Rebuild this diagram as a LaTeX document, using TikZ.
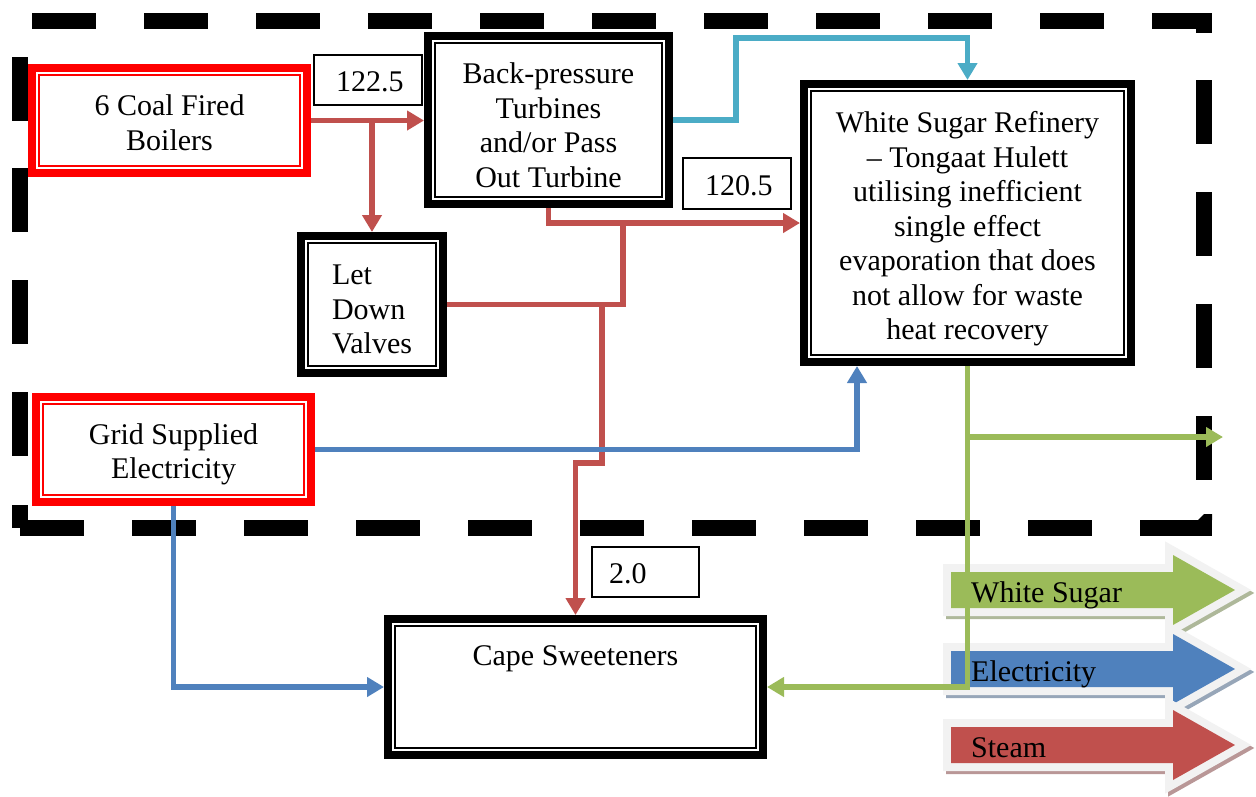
\documentclass[tikz,border=0pt]{standalone}
\usepackage{fontspec}
\setmainfont{Liberation Serif}
\usetikzlibrary{arrows.meta}

\definecolor{steamred}{HTML}{C0504D}
\definecolor{elecblue}{HTML}{4F81BD}
\definecolor{sugargreen}{HTML}{9BBB59}
\definecolor{pipecyan}{HTML}{4BACC6}
\definecolor{halo}{HTML}{F2F2F2}

% block arrow of the key: #1 centre y, #2 colour, #3 label, #4 node name
\newcommand\keyarrow[4]{%
  \filldraw[fill=#2!60!black!50!white, draw=#2!60!black!50!white, line width=16pt, line join=miter, shift={(3,3)}]
    (951,#1-18) -- (1173,#1-18) -- (1173,#1-35) -- (1235,#1) -- (1173,#1+35) -- (1173,#1+18) -- (951,#1+18) -- cycle;
  \filldraw[fill=halo, draw=halo, line width=16pt, line join=miter]
    (951,#1-18) -- (1173,#1-18) -- (1173,#1-35) -- (1235,#1) -- (1173,#1+35) -- (1173,#1+18) -- (951,#1+18) -- cycle;
  \fill[#2]
    (951,#1-18) -- (1173,#1-18) -- (1173,#1-35) -- (1235,#1) -- (1173,#1+35) -- (1173,#1+18) -- (951,#1+18) -- cycle;
  \begin{scope}
    \clip (951,#1-18) rectangle (1173,#1+18);
    \node[anchor=base west, inner sep=0pt] (#4) at (971,#1+12) {#3};
  \end{scope}
}

\begin{document}
\begin{tikzpicture}[x=1pt, y=-1pt,
  every node/.style={font=\fontsize{30}{34.5}\selectfont},
  dblbox/.style={draw=#1, fill=white, line width=8pt, inner sep=0pt,
    path picture={\draw[#1, line width=2.2pt]
      ([shift={(7pt,-7pt)}]path picture bounding box.north west) rectangle
      ([shift={(-7pt,7pt)}]path picture bounding box.south east);}},
  boxtext/.style={align=center, inner sep=0pt},
  numbox/.style={draw=black, line width=1.5pt, fill=white, inner sep=0pt,
    align=left, text width=#1, minimum height=50pt, text height=24pt},
  flow/.style={line width=5.5pt, line join=miter, -{Triangle[width=19pt,length=17pt]}},
  pipe/.style={line width=5.5pt, line join=miter}]

\useasboundingbox (0,0) rectangle (1256,796);

% ---- dashed system boundary ----
\foreach \x in {32,144,...,1040} \fill (\x,13) rectangle ++(64,16);
\fill (1152,13) rectangle (1212,29);
\fill (1196,29) rectangle (1212,33);
\foreach \y in {80,192,304,416} \fill (1196,\y) rectangle ++(16,64);
\foreach \x in {132,244,...,1028} \fill (\x,520) rectangle ++(64,16);
\fill (1140,520) rectangle (1212,536);
\fill (1204,514) -- (1212,514) -- (1212,520) -- (1198,520) -- cycle;
\fill (20,520) rectangle (84,536);
\foreach \y in {57,168,280,392} \fill (12,\y) rectangle ++(16,64);
\fill (12,505) rectangle (28,528);

% ---- key ----
\keyarrow{590}{sugargreen}{White Sugar}{keysugar}
\keyarrow{669}{elecblue}{Electricity}{keyelec}
\keyarrow{745}{steamred}{Steam}{keysteam}

% ---- blocks ----
\node[dblbox=red, minimum width=275pt, minimum height=105pt] (boil) at (169.5,120.5) {};
\node[boxtext] (boiltext) at (169.5,122.5) {6 Coal Fired\\Boilers};

\node[dblbox=black, minimum width=241pt, minimum height=168pt] (turb) at (548.5,120) {};
\node[boxtext] (turbtext) at (548.5,125) {Back-pressure\\Turbines\\and/or Pass\\Out Turbine};

\node[dblbox=black, minimum width=142pt, minimum height=137pt] (ldv) at (372,304.5) {};
\node[boxtext, align=left] (ldvtext) at (372,309.5) {Let\\Down\\Valves};

\node[dblbox=black, minimum width=327pt, minimum height=278pt] (ref) at (967.5,223) {};
\node[boxtext] (reftext) at (967.5,229) {White Sugar Refinery\\– Tongaat Hulett\\utilising inefficient\\single effect\\evaporation that does\\not allow for waste\\heat recovery};

\node[dblbox=red, minimum width=275pt, minimum height=105pt] (grid) at (173.5,449.5) {};
\node[boxtext] (gridtext) at (173.5,454.5) {Grid Supplied\\Electricity};

\node[dblbox=black, minimum width=375pt, minimum height=136pt, text height=21pt, text depth=65pt] (cape) at (575.5,687) {Cape Sweeteners};

% ---- flow values ----
\node[numbox=108pt] (v1) at (368,80) {\hspace*{22pt}122.5};
\node[numbox=108pt, minimum height=51pt] (v2) at (737,183.5) {\hspace*{22pt}120.5};
\node[numbox=107pt] (v3) at (645.5,572) {\hspace*{17pt}2.0};

% ---- routing points ----
\coordinate (j2) at (623,223);
\coordinate (j3) at (602,304.5);
\coordinate (j4) at (602,463);
\coordinate (c1) at (736,38);
\coordinate (rb) at (857,0);
\coordinate (gout) at (1223,437);

% ---- steam ----
\draw[flow, steamred] (boil.east) -- (boil.east -| turb.west);
\draw[flow, steamred] (boil.east -| ldv.north) -- (ldv.north);
\draw[flow, steamred] (turb.south) |- (ref.west);
\draw[pipe, steamred] (ldv.east) -| (j2);
\draw[flow, steamred] (j3) -- (j4) -| (cape.north);

% ---- turbine to refinery ----
\draw[flow, pipecyan] (turb.east) -| (c1) -| (ref.north);

% ---- electricity ----
\draw[flow, elecblue] (grid.east) -| (ref.south -| rb);
\draw[flow, elecblue] (grid.south) |- (cape.west);

% ---- white sugar ----
\draw[flow, sugargreen] (ref.south) |- (cape.east);
\draw[flow, sugargreen] (ref.south |- gout) -- (gout);

\end{tikzpicture}
\end{document}
